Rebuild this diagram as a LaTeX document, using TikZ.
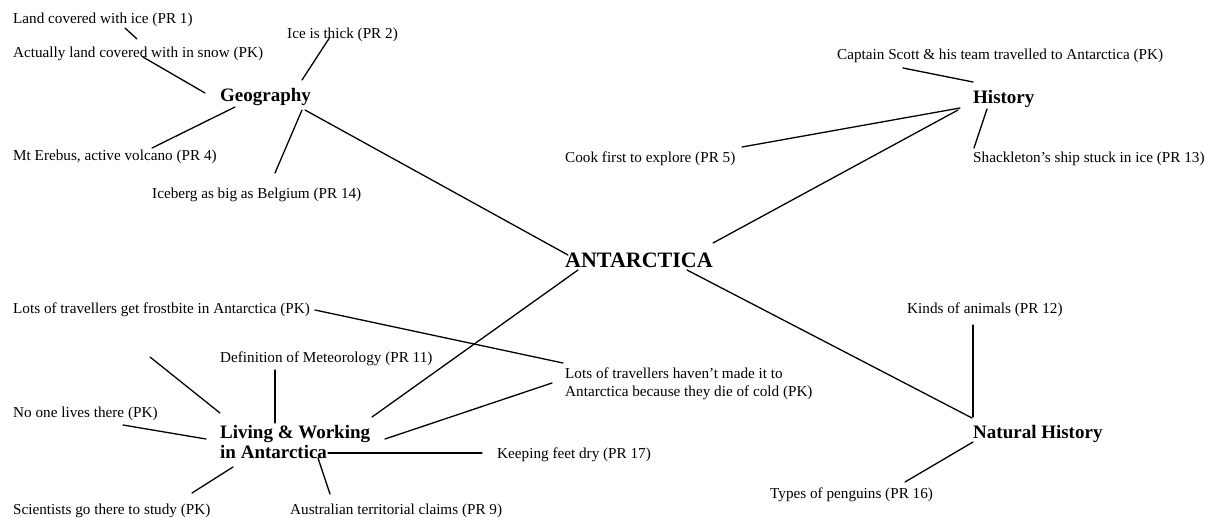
\documentclass[tikz,border=0pt]{standalone}
\usepackage{fontspec}
\setmainfont{Liberation Serif}
\begin{document}
\begin{tikzpicture}[x=1pt,y=-1pt,
  leaf/.style={anchor=base west, inner sep=0pt, font=\fontsize{15.2}{18}\selectfont},
  topic/.style={anchor=base west, inner sep=0pt, font=\fontsize{19}{20}\selectfont\bfseries},
  hub/.style={anchor=base west, inner sep=0pt, font=\fontsize{22}{24}\selectfont\bfseries},
  link/.style={line width=1.3pt, line cap=round}]
\useasboundingbox[fill=white] (0,0) rectangle (1210,517);

% central topic and the four themes
\node[hub]   (ant)    at (565,267) {ANTARCTICA};
\node[topic] (geo)    at (220,101) {Geography};
\node[topic] (hist)   at (973,103) {History};
\node[topic] (nat)    at (973,438) {Natural History};
\node[topic] (living) at (220,438) {\begin{tabular}[t]{@{}l@{}}Living \& Working\\in Antarctica\end{tabular}};

% Geography
\node[leaf] (land)     at (13,23)   {Land covered with ice (PR 1)};
\node[leaf] (actually) at (13,57)   {Actually land covered with in snow (PK)};
\node[leaf] (ice)      at (287,38)  {Ice is thick (PR 2)};
\node[leaf] (erebus)   at (13,160)  {Mt Erebus, active volcano (PR 4)};
\node[leaf] (iceberg)  at (152,198) {Iceberg as big as Belgium (PR 14)};

% History
\node[leaf] (scott) at (837,59)  {Captain Scott \& his team travelled to Antarctica (PK)};
\node[leaf] (cook)  at (565,162) {Cook first to explore (PR 5)};
\node[leaf] (shack) at (973,162) {Shackleton's ship stuck in ice (PR 13)};

% Natural History
\node[leaf] (kinds)    at (907,313) {Kinds of animals (PR 12)};
\node[leaf] (penguins) at (770,498) {Types of penguins (PR 16)};

% Living & Working
\node[leaf] (frost) at (13,313)  {Lots of travellers get frostbite in Antarctica (PK)};
\node[leaf] (defn)  at (220,362) {Definition of Meteorology (PR 11)};
\node[leaf] (lots)  at (565,378) {\begin{tabular}[t]{@{}l@{}}Lots of travellers haven't made it to\\Antarctica because they die of cold (PK)\end{tabular}};
\node[leaf] (noone) at (13,417)  {No one lives there (PK)};
\node[leaf] (keep)  at (497,458) {Keeping feet dry (PR 17)};
\node[leaf] (sci)   at (13,514)  {Scientists go there to study (PK)};
\node[leaf] (aus)   at (290,514) {Australian territorial claims (PR 9)};
\coordinate (loose) at (150,357);

% connectors
\draw[link] ([shift={(112,5)}]land.base west) -- ([shift={(124,-18)}]actually.base west);
\draw[link] ([shift={(130,0)}]actually.base west) -- ([shift={(-15,-8)}]geo.base west);
\draw[link] ([shift={(43,-1)}]ice.base west) -- ([shift={(82,-21)}]geo.base west);
\draw[link] ([shift={(139,-12)}]erebus.base west) -- ([shift={(15,6)}]geo.base west);
\draw[link] ([shift={(123,-25)}]iceberg.base west) -- ([shift={(82,9)}]geo.base west);
\draw[link] ([shift={(85,9)}]geo.base west) -- ([shift={(3,-12)}]ant.base west);

\draw[link] ([shift={(66,9)}]scott.base west) -- ([shift={(0,-21)}]hist.base west);
\draw[link] ([shift={(177,-15)}]cook.base west) -- ([shift={(-13,5)}]hist.base west);
\draw[link] ([shift={(148,-24)}]ant.base west) -- ([shift={(-15,7)}]hist.base west);
\draw[link] ([shift={(1,-14)}]shack.base west) -- ([shift={(14,6)}]hist.base west);

\draw[link] ([shift={(122,3)}]ant.base west) -- ([shift={(-1,-20)}]nat.base west);
\draw[link] ([shift={(66,12)}]kinds.base west) -- ([shift={(0,-21)}]nat.base west);
\draw[link] ([shift={(135,-16)}]penguins.base west) -- ([shift={(0,4)}]nat.base west);

\draw[link] ([shift={(13,3)}]ant.base west) -- ([shift={(152,-21)}]living.base west);
\draw[link] ([shift={(302,-3)}]frost.base west) -- ([shift={(-2,-15)}]lots.base west);
\draw[link] ([shift={(165,1)}]living.base west) -- ([shift={(-13,5)}]lots.base west);
\draw[link] ([shift={(55,8)}]defn.base west) -- ([shift={(55,-15)}]living.base west);
\draw[link] (loose) -- ([shift={(0,-25)}]living.base west);
\draw[link] ([shift={(110,8)}]noone.base west) -- ([shift={(-14,1)}]living.base west);
\draw[link] ([shift={(179,-21)}]sci.base west) -- ([shift={(13,29)}]living.base west);
\draw[link] ([shift={(40,-20)}]aus.base west) -- ([shift={(98,20)}]living.base west);
\draw[link] ([shift={(-15,-5)}]keep.base west) -- ([shift={(108,15)}]living.base west);
\end{tikzpicture}
\end{document}
